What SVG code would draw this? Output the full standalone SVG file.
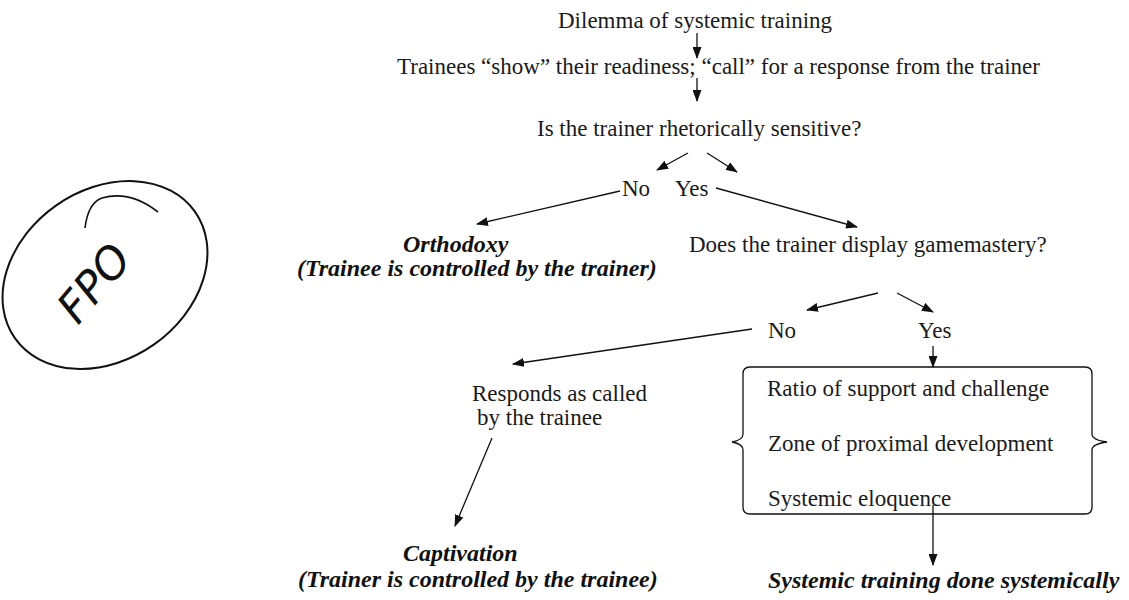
<svg xmlns="http://www.w3.org/2000/svg" width="1129" height="600" viewBox="0 0 1129 600">
<defs>
<marker id="ah" markerUnits="userSpaceOnUse" markerWidth="12" markerHeight="9" refX="11" refY="4.5" orient="auto">
<path d="M0,0 L12,4.5 L0,9 z" fill="#111"/>
</marker>
<style>
.t{font-family:"Liberation Serif","Times New Roman",serif;font-size:23px;fill:#1a1a1a}
.b{font-family:"Liberation Serif","Times New Roman",serif;font-size:24px;font-weight:bold;font-style:italic;fill:#111}
.c{stroke:#111;stroke-width:1.3;fill:none}
.a{stroke:#111;stroke-width:1.3;fill:none;marker-end:url(#ah)}
</style>
</defs>
<rect width="1129" height="600" fill="#fff"/>

<g id="fpo">
<ellipse cx="105" cy="275" rx="110" ry="85" transform="rotate(-35 105 275)" fill="none" stroke="#111" stroke-width="2"/>
<path d="M85,228 Q88,203 102,198 Q130,190 158,212" fill="none" stroke="#111" stroke-width="1.6"/>
<text x="78" y="326" transform="rotate(-50 78 326)" font-family="'DejaVu Sans',sans-serif" font-weight="200" font-size="44" font-style="italic" fill="#111">FPO</text>
</g>

<g id="n-dilemma"><text class="t" x="558" y="28">Dilemma of systemic training</text></g>
<g id="n-trainees"><text class="t" x="397" y="74">Trainees “show” their readiness; “call” for a response from the trainer</text></g>
<g id="n-sensitive"><text class="t" x="537" y="136">Is the trainer rhetorically sensitive?</text></g>
<g id="n-no1"><text class="t" x="622" y="196">No</text></g>
<g id="n-yes1"><text class="t" x="675" y="196">Yes</text></g>
<g id="n-orthodoxy">
<text class="b" x="403" y="252">Orthodoxy</text>
<text class="b" x="297" y="276">(Trainee is controlled by the trainer)</text>
</g>
<g id="n-gamemastery"><text class="t" x="689" y="252">Does the trainer display gamemastery?</text></g>
<g id="n-no2"><text class="t" x="768" y="338">No</text></g>
<g id="n-yes2"><text class="t" x="918" y="338">Yes</text></g>
<g id="n-responds">
<text class="t" x="472" y="401">Responds as called</text>
<text class="t" x="477" y="425">by the trainee</text>
</g>
<g id="n-box">
<path class="c" d="M750,367 L1085,367 Q1092,367 1092,374 L1092,434 Q1092,440 1107,442 Q1092,444 1092,450 L1092,507 Q1092,514 1085,514 L750,514 Q743,514 743,507 L743,450 Q743,444 732,442 Q743,440 743,434 L743,374 Q743,367 750,367 Z"/>
<text class="t" x="767" y="396">Ratio of support and challenge</text>
<text class="t" x="768" y="451">Zone of proximal development</text>
<text class="t" x="768" y="506">Systemic eloquence</text>
</g>
<g id="n-captivation">
<text class="b" x="403" y="561">Captivation</text>
<text class="b" x="298" y="587">(Trainer is controlled by the trainee)</text>
</g>
<g id="n-systemic"><text class="b" x="768" y="588">Systemic training done systemically</text></g>

<g id="connectors">
<line class="a" x1="697" y1="33" x2="697" y2="58"/>
<line class="a" x1="697" y1="78" x2="697" y2="101"/>
<line class="a" x1="688" y1="153" x2="657" y2="170"/>
<line class="a" x1="707" y1="153" x2="737" y2="172"/>
<line class="a" x1="620" y1="191" x2="477" y2="224"/>
<line class="a" x1="716" y1="188" x2="857" y2="227"/>
<line class="a" x1="878" y1="293" x2="807" y2="310"/>
<line class="a" x1="897" y1="293" x2="933" y2="312"/>
<line class="a" x1="752" y1="329" x2="513" y2="364"/>
<line class="a" x1="933" y1="346" x2="933" y2="367"/>
<line class="a" x1="492" y1="438" x2="455" y2="526"/>
<line class="a" x1="933" y1="505" x2="933" y2="565"/>
</g>
</svg>
